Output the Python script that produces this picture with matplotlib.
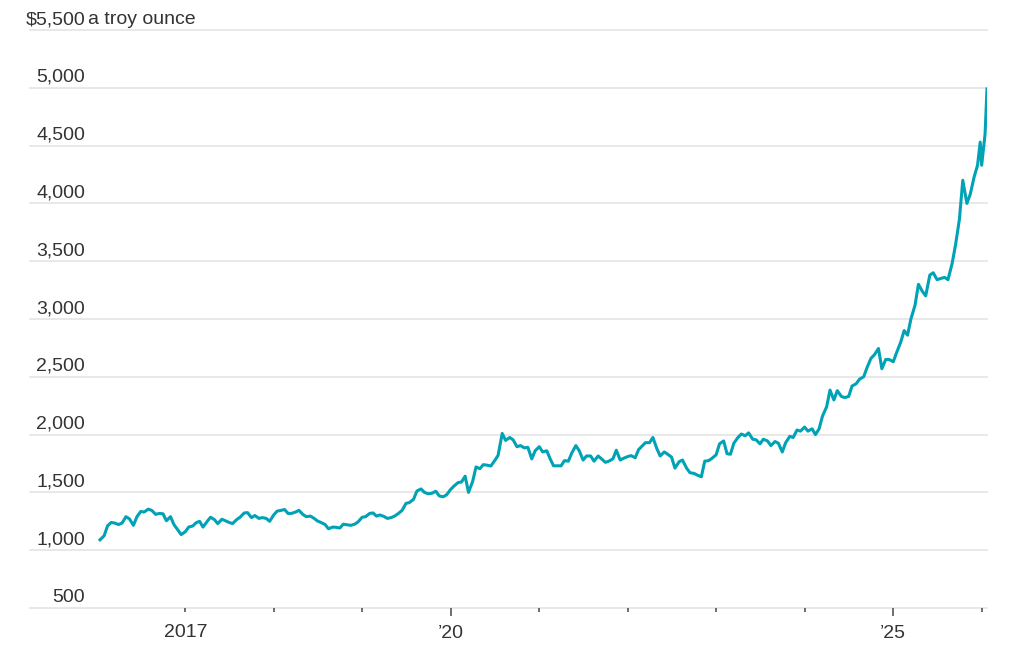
import pandas as pd
import matplotlib
matplotlib.use('Agg')
import matplotlib.pyplot as plt
import matplotlib.transforms as mtransforms

plt.rcParams['font.family'] = ['Liberation Sans', 'DejaVu Sans']

p2016 = [1090, 1125, 1210, 1240, 1235, 1222, 1235, 1290, 1272, 1215, 1288,
         1335, 1330, 1355, 1345, 1310, 1318, 1315, 1255, 1290, 1222, 1175, 1135]
p2017 = [1160, 1200, 1210, 1238, 1250, 1200, 1248, 1285, 1265, 1230, 1268, 1255,
         1240, 1230, 1265, 1285, 1322, 1325, 1282, 1300, 1275, 1282, 1275, 1250]
p2018 = [1305, 1338, 1345, 1352, 1318, 1318, 1330, 1345, 1310, 1290, 1295, 1278,
         1252, 1240, 1222, 1185, 1200, 1198, 1192, 1225, 1220, 1215, 1225, 1245]
p2019 = [1285, 1290, 1318, 1322, 1295, 1305, 1292, 1275, 1282, 1295, 1320, 1345,
         1405, 1412, 1440, 1512, 1530, 1500, 1488, 1492, 1510, 1470, 1462, 1478]
p2020 = [1525, 1555, 1585, 1590, 1640, 1500, 1595, 1720, 1705, 1740, 1735, 1728,
         1775, 1820, 2010, 1950, 1975, 1955, 1895, 1905, 1885, 1890, 1790, 1860]
p2021 = [1895, 1850, 1860, 1790, 1730, 1730, 1730, 1775, 1770, 1840, 1905, 1860,
         1780, 1815, 1815, 1770, 1815, 1790, 1760, 1770, 1790, 1865, 1780, 1795]
p2022 = [1810, 1818, 1800, 1870, 1900, 1930, 1930, 1975, 1880, 1815, 1850, 1830,
         1805, 1710, 1765, 1780, 1710, 1670, 1665, 1650, 1635, 1770, 1775, 1795]
p2023 = [1825, 1920, 1945, 1835, 1830, 1925, 1975, 2005, 1990, 2015, 1960, 1955,
         1920, 1960, 1945, 1905, 1940, 1925, 1850, 1930, 1985, 1975, 2040, 2030]
p2024 = [2065, 2030, 2050, 2000, 2050, 2160, 2240, 2385, 2300, 2380, 2330, 2320,
         2330, 2420, 2440, 2480, 2500, 2580, 2660, 2690, 2745, 2570, 2650, 2650]
p2025 = [2630, 2710, 2800, 2900, 2860, 3000, 3120, 3300, 3240, 3200, 3380, 3400,
         3340, 3350, 3360, 3340, 3480, 3640, 3860, 4200, 4000, 4080, 4230, 4330]
tail_dates = ['2025-12-26', '2026-01-01', '2026-01-15', '2026-01-23']
tail_vals = [4530, 4330, 4600, 4990]

dates = list(pd.date_range('2016-01-15', '2025-12-15', freq='SMS')) + list(pd.to_datetime(tail_dates))
prices = p2016 + p2017 + p2018 + p2019 + p2020 + p2021 + p2022 + p2023 + p2024 + p2025 + tail_vals

y_ticks = [500, 1000, 1500, 2000, 2500, 3000, 3500, 4000, 4500, 5000, 5500]
major_years = [2020, 2025]
major_labels = ['\u201920', '\u201925']
minor_years = [2017, 2018, 2019, 2021, 2022, 2023, 2024, 2026]
minor_labels = ['2017', '', '', '', '', '', '', '']

line_color = '#00a2b5'
text_color = '#333333'

fig = plt.figure(figsize=(10.24, 6.54), dpi=100)
ax = fig.add_axes([30 / 1024, 46 / 654, 957 / 1024, 578 / 654])

for v in y_ticks:
    ax.axhline(v, color='#e2e2e2', lw=1.1, zorder=0, clip_on=False)

ax.plot(dates, prices, color=line_color, lw=2.2, zorder=3, solid_joinstyle='round')

ax.set_ylim(500, 5500)
ax.set_xlim(pd.Timestamp('2015-04-01'), pd.Timestamp('2026-01-23'))
for s in ax.spines.values():
    s.set_visible(False)
ax.set_yticks([])

ax.set_xticks([pd.Timestamp(f'{y}-01-01') for y in major_years], labels=major_labels)
ax.set_xticks([pd.Timestamp(f'{y}-01-01') for y in minor_years], labels=minor_labels, minor=True)
ax.tick_params(axis='x', which='major', length=6, width=1.2, color='#555555',
               pad=6.5, labelsize=14, labelcolor=text_color)
ax.tick_params(axis='x', which='minor', length=3, width=1.2, color='#555555',
               pad=8.6, labelsize=14, labelcolor=text_color)

# y labels sit just above their gridlines
blend = mtransforms.blended_transform_factory(ax.transAxes, ax.transData)
trans = mtransforms.offset_copy(blend, fig=fig, y=4.3, units='points')
label_x = 55 / 957
for v in y_ticks[:-1]:
    ax.text(label_x, v, f'{v:,}', transform=trans, ha='right', va='baseline',
            fontsize=14, color=text_color)
ax.text(label_x, y_ticks[-1], f'${y_ticks[-1]:,}', transform=trans, ha='right',
        va='baseline', fontsize=14, color=text_color)
ax.text(58 / 957, y_ticks[-1], 'a troy ounce', transform=trans, ha='left',
        va='baseline', fontsize=14, color=text_color)

fig.savefig('out.png', dpi=100)
